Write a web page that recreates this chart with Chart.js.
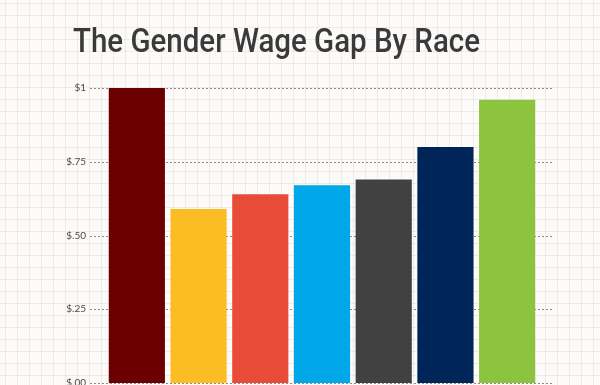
<!DOCTYPE html>
<html>
<head>
<meta charset="utf-8">
<script src="https://cdn.jsdelivr.net/npm/chart.js@4"></script>
<style>
  html, body { margin: 0; padding: 0; }
  body {
    width: 600px; height: 385px; overflow: hidden;
    background-color: #fcfbf9;
    background-image:
      linear-gradient(to right, rgba(220,212,204,0.4) 1px, transparent 1px),
      linear-gradient(to bottom, rgba(220,212,204,0.4) 1px, transparent 1px);
    background-size: 12px 12px;
    background-position: 5px 3px;
  }
  #wrap { position: absolute; left: 0; top: 0; width: 600px; height: 385px; }
  canvas { display: block; }
</style>
</head>
<body>
<div id="wrap"><canvas id="c" width="600" height="385"></canvas></div>
<script>
const categories = ["White Men", "Group A", "Group B", "Group C", "Group D", "Group E", "Group F"];
const wageValues = [1.00, 0.59, 0.64, 0.67, 0.69, 0.80, 0.96];
const barColors = ["#6b0000", "#fbbd23", "#e84b37", "#00a7e9", "#414141", "#002659", "#8cc43f"];
const tickValues = [0, 0.25, 0.5, 0.75, 1];
const tickLabels = ["$.00", "$.25", "$.50", "$.75", "$1"];
const titleText = "The Gender Wage Gap By Race";

const dottedGrid = {
  id: 'dottedGrid',
  beforeDatasetsDraw(chart) {
    const y = chart.scales.y;
    const a = chart.chartArea;
    const ctx = chart.ctx;
    ctx.save();
    ctx.strokeStyle = '#8c8c8c';
    ctx.lineWidth = 1;
    ctx.setLineDash([2, 2]);
    tickValues.forEach(v => {
      const py = Math.round(y.getPixelForValue(v)) + 0.5;
      ctx.beginPath();
      ctx.moveTo(a.left - 16, py);
      ctx.lineTo(a.right + 14, py);
      ctx.stroke();
    });
    ctx.restore();
  }
};

const titlePlugin = {
  id: 'bigTitle',
  afterDraw(chart) {
    const ctx = chart.ctx;
    ctx.save();
    ctx.font = '500 33.5px Roboto';
    const w = ctx.measureText(titleText).width;
    ctx.fillStyle = '#3a3a3a';
    ctx.textAlign = 'left';
    ctx.textBaseline = 'alphabetic';
    ctx.translate(73, 52);
    ctx.scale(407 / w, 1);
    ctx.fillText(titleText, 0, 0);
    ctx.restore();
  }
};

new Chart(document.getElementById('c'), {
  type: 'bar',
  data: {
    labels: categories,
    datasets: [{
      data: wageValues,
      backgroundColor: barColors,
      borderWidth: 0,
      barPercentage: 0.91,
      categoryPercentage: 1.0
    }]
  },
  options: {
    responsive: false,
    maintainAspectRatio: false,
    animation: false,
    devicePixelRatio: 1,
    layout: { padding: { left: 0, right: 62, top: 88, bottom: 2 } },
    plugins: {
      legend: { display: false },
      tooltip: { enabled: false },
      title: { display: false }
    },
    scales: {
      x: { display: false, afterFit(s) { s.height = 0; } },
      y: {
        min: 0, max: 1,
        afterFit(s) { s.width = 106; },
        afterBuildTicks(s) { s.ticks = tickValues.map(v => ({ value: v })); },
        border: { display: false },
        grid: { display: false, drawTicks: true, tickLength: 20 },
        ticks: {
          padding: 0,
          color: '#4a4a4a',
          font: { family: 'Lato', size: 10, lineHeight: 0.4 },
          callback: (v) => tickLabels[tickValues.indexOf(v)]
        }
      }
    }
  },
  plugins: [dottedGrid, titlePlugin]
});
</script>
</body>
</html>
